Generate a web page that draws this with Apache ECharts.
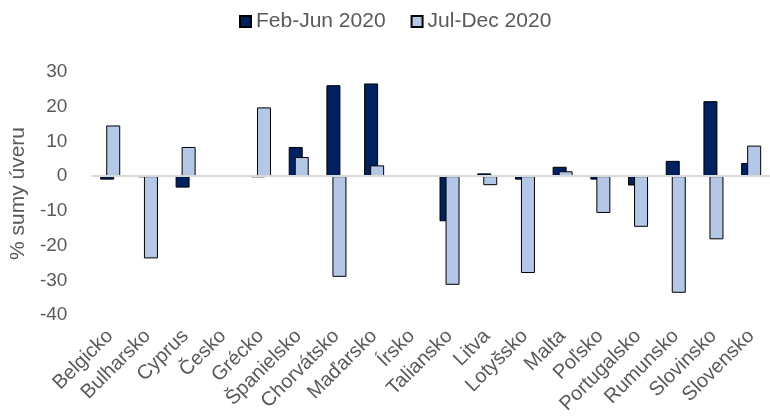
<!DOCTYPE html>
<html>
<head>
<meta charset="utf-8">
<script src="https://cdn.jsdelivr.net/npm/echarts@6/dist/echarts.min.js"></script>
<style>
html,body{margin:0;padding:0;background:#fff;}
#chart{width:770px;height:417px;}
</style>
</head>
<body>
<div id="chart"></div>
<script>
const categories = ["Belgicko","Bulharsko","Cyprus","Česko","Grécko","Španielsko","Chorvátsko","Maďarsko","Írsko","Taliansko","Litva","Lotyšsko","Malta","Poľsko","Portugalsko","Rumunsko","Slovinsko","Slovensko"];
const febJun = [-1.0, -0.3, -3.3, null, -0.3, 8.4, 26.2, 26.7, null, -13.0, 0.8, -1.0, 2.7, -1.0, -2.7, 4.4, 21.6, 3.8];
const julDec = [14.6, -23.7, 8.4, null, 19.8, 5.5, -29.0, 3.1, null, -31.3, -2.6, -27.9, 1.4, -10.6, -14.6, -33.6, -18.2, 8.8];
const seriesNames = ["Feb-Jun 2020", "Jul-Dec 2020"];
const yTicks = [-40, -30, -20, -10, 0, 10, 20, 30];

const font = "Liberation Sans, Arial, sans-serif";
const chart = echarts.init(document.getElementById('chart'), null, {renderer: 'canvas'});
chart.setOption({
  animation: false,
  textStyle: {fontFamily: font},
  legend: {
    data: seriesNames,
    top: 6,
    left: 234,
    itemWidth: 11,
    itemHeight: 11,
    itemGap: 25,
    icon: 'rect',
    textStyle: {fontSize: 21, color: '#595959', fontFamily: font}
  },
  grid: [
    {left: 87, right: -12, top: 72, bottom: 102, containLabel: false},
    {left: 91, right: -16, top: 72, bottom: 102, containLabel: false}
  ],
  xAxis: [
    {
      type: 'category',
      gridIndex: 0,
      data: categories,
      axisLine: {show: false, onZero: false},
      axisTick: {show: false},
      axisLabel: {show: false}
    },
    {
      type: 'category',
      gridIndex: 1,
      data: categories,
      axisLine: {show: false, onZero: false},
      axisTick: {show: false},
      axisLabel: {
        rotate: 45,
        interval: 0,
        margin: 18,
        fontSize: 20,
        color: '#595959',
        fontFamily: font
      }
    }
  ],
  yAxis: [
    {
      type: 'value',
      gridIndex: 0,
      min: yTicks[0],
      max: yTicks[yTicks.length - 1],
      interval: 10,
      name: '% sumy úveru',
      nameLocation: 'middle',
      nameGap: 55,
      nameTextStyle: {fontSize: 21, color: '#595959', fontFamily: font},
      axisLine: {show: false},
      axisTick: {show: false},
      splitLine: {show: false},
      axisLabel: {fontSize: 19, color: '#595959', margin: 24, fontFamily: font, padding: [3, 0, 0, 0]}
    },
    {
      type: 'value',
      gridIndex: 1,
      min: yTicks[0],
      max: yTicks[yTicks.length - 1],
      show: false
    }
  ],
  series: [
    {
      name: seriesNames[0],
      type: 'bar',
      xAxisIndex: 0,
      yAxisIndex: 0,
      data: febJun,
      barWidth: 14,
      barGap: '-57%',
      itemStyle: {color: '#002060', borderColor: '#000', borderWidth: 1}
    },
    {
      name: seriesNames[1],
      type: 'bar',
      xAxisIndex: 0,
      yAxisIndex: 0,
      data: julDec,
      barWidth: 14,
      itemStyle: {color: '#b4c7e7', borderColor: '#000', borderWidth: 1},
      markLine: {
        silent: true,
        symbol: 'none',
        label: {show: false},
        lineStyle: {color: '#d9d9d9', width: 2, type: 'solid'},
        data: [{yAxis: 0}]
      }
    }
  ]
});
</script>
</body>
</html>
